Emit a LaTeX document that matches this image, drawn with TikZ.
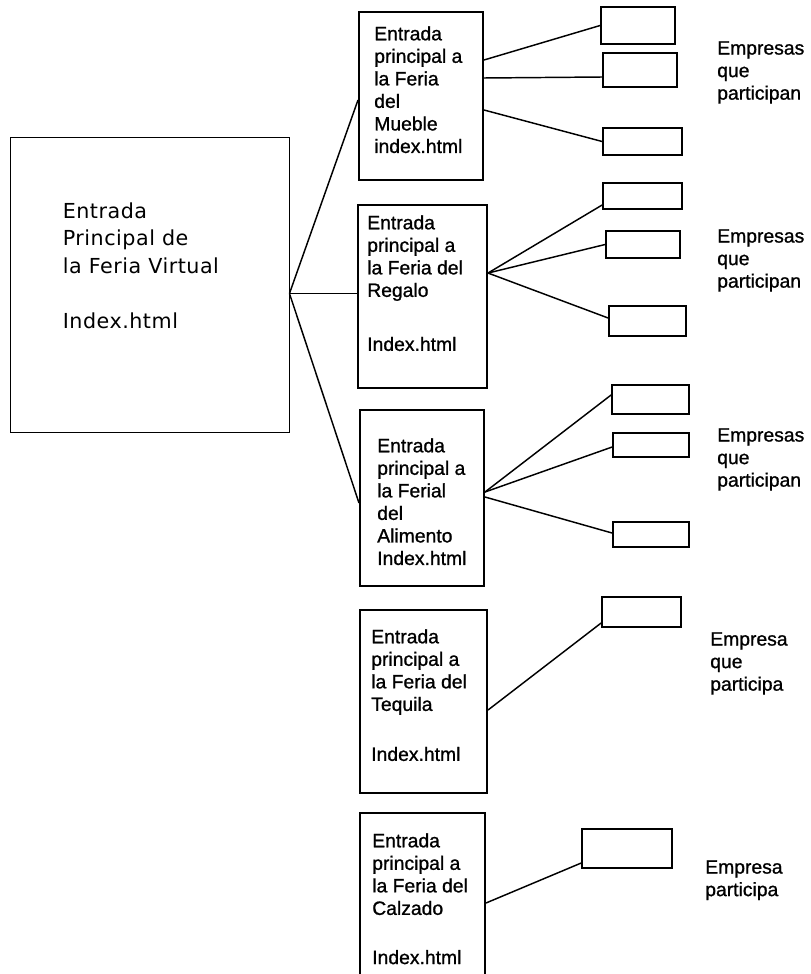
\documentclass[tikz,border=0pt]{standalone}
\usepackage{fontspec}
\setmainfont{Liberation Sans}[FakeBold=1]
\newfontfamily\portalfont{DejaVu Sans}[LetterSpace=2.5]
\usetikzlibrary{positioning}

\begin{document}
\begin{tikzpicture}[
    x=0.75pt, y=-0.75pt,
    base/.style={draw, rectangle, inner sep=0pt},
    portal/.style={base, line width=0.7pt, minimum width=209.25pt, minimum height=221.25pt},
    feria/.style={base, line width=1.5pt},
    empresa/.style={base, line width=1.3pt},
    boxtext/.style={align=left, inner sep=0pt, font=\fontsize{14.5}{16.9}\selectfont},
    note/.style={boxtext, anchor=north west},
    link/.style={line width=1.1pt}
]

    \useasboundingbox (0,0) rectangle (810,974);
    \clip (0,0) rectangle (810,974);

    % portada de la feria virtual
    \node [portal] (portal) at (149.5,284.5) {};
    \node [boxtext, font=\portalfont\fontsize{15.5}{20.6}\selectfont,
        below right=49.5pt and 39.75pt of portal.north west] (portal-txt)
        {Entrada\\Principal de\\la Feria Virtual\\[20.6pt]Index.html};

    % entradas de cada feria
    \node [feria, minimum width=93pt, minimum height=126pt] (mueble) at (421,96) {};
    \node [boxtext, below right=11.25pt and 12pt of mueble.north west] (mueble-txt)
        {Entrada\\principal a\\la Feria\\del\\Mueble\\index.html};

    \node [feria, minimum width=96.75pt, minimum height=137.25pt] (regalo) at (422.5,296.5) {};
    \node [boxtext, below right=8.25pt and 7.5pt of regalo.north west] (regalo-txt)
        {Entrada\\principal a\\la Feria del\\Regalo\\[23.6pt]Index.html};

    \node [feria, minimum width=93pt, minimum height=132pt] (alimento) at (422,498) {};
    \node [boxtext, below right=21.75pt and 13.5pt of alimento.north west] (alimento-txt)
        {Entrada\\principal a\\la Ferial\\del\\Alimento\\Index.html};

    \node [feria, minimum width=95.25pt, minimum height=137.25pt] (tequila) at (423.5,701.5) {};
    \node [boxtext, below right=15pt and 9pt of tequila.north west] (tequila-txt)
        {Entrada\\principal a\\la Feria del\\Tequila\\[20.6pt]Index.html};

    \node [feria, minimum width=93.75pt, minimum height=121.5pt] (calzado) at (422.5,894) {};
    \node [boxtext, below right=15.75pt and 9.75pt of calzado.north west] (calzado-txt)
        {Entrada\\principal a\\la Feria del\\Calzado\\[20pt]Index.html};

    % empresas
    \node [empresa, minimum width=55.5pt, minimum height=27.75pt] (m1) at (638,25.5) {};
    \node [empresa, minimum width=55.5pt, minimum height=25.5pt] (m2) at (640,70) {};
    \node [empresa, minimum width=59.25pt, minimum height=20.25pt] (m3) at (642.5,141.5) {};

    \node [empresa, minimum width=59.25pt, minimum height=19.5pt] (r1) at (642.5,196) {};
    \node [empresa, minimum width=55.5pt, minimum height=20.25pt] (r2) at (643,244.5) {};
    \node [empresa, minimum width=57.75pt, minimum height=22.5pt] (r3) at (647.5,321) {};

    \node [empresa, minimum width=57.75pt, minimum height=21.75pt] (a1) at (650.5,399.5) {};
    \node [empresa, minimum width=57pt, minimum height=18pt] (a2) at (651,445) {};
    \node [empresa, minimum width=57pt, minimum height=18.75pt] (a3) at (651,534.5) {};

    \node [empresa, minimum width=59.25pt, minimum height=22.5pt] (t1) at (641.5,612) {};
    \node [empresa, minimum width=67.5pt, minimum height=29.25pt] (c1) at (627,848.5) {};

    \node [note] (mueble-note) at (717,41) {Empresas\\que\\participan};
    \node [note] (regalo-note) at (717,229) {Empresas\\que\\participan};
    \node [note] (alimento-note) at (717,428) {Empresas\\que\\participan};
    \node [note] (tequila-note) at (710,632) {Empresa\\que\\participa};
    \node [note] (calzado-note) at (705,860) {Empresa\\participa};

    % enlaces
    \coordinate (hub) at ([yshift=-6.75pt]portal.east);
    \draw [link] (hub) -- ([yshift=-3pt]mueble.west);
    \draw [link] (hub) -- ([yshift=2.25pt]regalo.west);
    \draw [link] (hub) -- ([yshift=-3.75pt]alimento.west);

    \draw [link] ([yshift=27pt]mueble.east) -- (m1.west);
    \draw [link] ([yshift=13.5pt]mueble.east) -- ([yshift=-5.25pt]m2.west);
    \draw [link] ([yshift=-10.5pt]mueble.east) -- (m3.west);

    \draw [link] ([yshift=17.6pt]regalo.east) -- ([yshift=-6.75pt]r1.west);
    \draw [link] ([yshift=17.6pt]regalo.east) -- (r2.west);
    \draw [link] ([yshift=17.6pt]regalo.east) -- ([yshift=2.25pt]r3.west);

    \draw [link] ([yshift=4.5pt]alimento.east) -- ([yshift=3.4pt]a1.west);
    \draw [link] ([yshift=4.5pt]alimento.east) -- ([yshift=-1.5pt]a2.west);
    \draw [link] ([yshift=0.75pt]alimento.east) -- ([yshift=1.1pt]a3.west);

    \draw [link] ([yshift=-6.4pt]tequila.east) -- ([yshift=-8.25pt]t1.west);
    \draw [link] ([yshift=-6.75pt]calzado.east) -- ([yshift=-10.9pt]c1.west);

\end{tikzpicture}
\end{document}
